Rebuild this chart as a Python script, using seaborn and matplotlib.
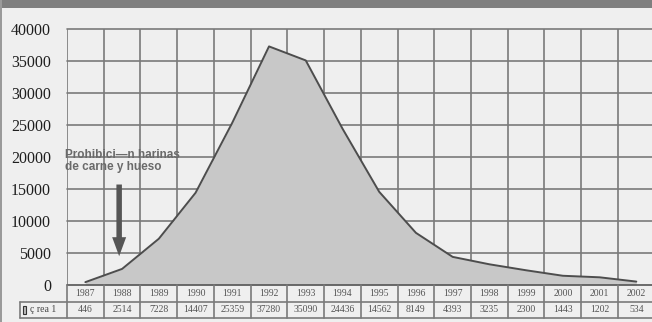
import numpy as np
import pandas as pd
import matplotlib
matplotlib.use("Agg")
import matplotlib.pyplot as plt
from matplotlib.patches import Rectangle
import seaborn as sns

years = ["1987", "1988", "1989", "1990", "1991", "1992", "1993", "1994",
         "1995", "1996", "1997", "1998", "1999", "2000", "2001", "2002"]
values = [446, 2514, 7228, 14407, 25359, 37280, 35090, 24436,
          14562, 8149, 4393, 3235, 2300, 1443, 1202, 534]
series_name = "ç rea 1"
y_ticks = [0, 5000, 10000, 15000, 20000, 25000, 30000, 35000, 40000]
annotation_lines = ["Prohibici—n harinas", "de carne y hueso"]

sns.set_theme(style="white")
plt.rcParams["font.family"] = ["Liberation Serif", "DejaVu Sans"]

W, H = 652, 322
fig = plt.figure(figsize=(W / 100, H / 100), dpi=100)
fig.patch.set_facecolor("#efefef")

# frame of the scanned figure
fig.add_artist(Rectangle((0, 1 - 8 / H), 1, 8 / H, transform=fig.transFigure,
                         facecolor="#7f7f7f", edgecolor="none", zorder=0))
fig.add_artist(Rectangle((0, 0), 2 / W, 1, transform=fig.transFigure,
                         facecolor="#9a9a9a", edgecolor="none", zorder=0))

cell = 36.73
left_px = 67
right_px = left_px + 16 * cell
top_px, zero_px, tab_bot = 29, 285, 318

ax = fig.add_axes([left_px / W, (H - zero_px) / H,
                   (right_px - left_px) / W, (zero_px - top_px) / H])
ax.set_facecolor("none")

df = pd.DataFrame({"pos": np.arange(len(years)), "value": values})
ax.fill_between(df["pos"], df["value"], 0, color="#c8c8c8", zorder=2, linewidth=0)
sns.lineplot(data=df, x="pos", y="value", ax=ax, color="#4d4d4d",
             linewidth=1.4, zorder=3)

ax.set_xlim(-0.5, 15.5)
ax.set_ylim(0, 40000)
grid_c = "#7a7a7a"
for yv in y_ticks:
    ax.axhline(yv, color=grid_c if yv else "#555555", lw=1.2, zorder=1 if yv else 4,
               clip_on=False)
for k in range(17):
    ax.axvline(-0.5 + k, color=grid_c, lw=1.2, zorder=1)

for s in ax.spines.values():
    s.set_visible(False)
ax.set_xticks([])
ax.set_yticks(y_ticks)
ax.set_yticklabels([str(v) for v in y_ticks], fontsize=11.5, color="#1e1e1e")
ax.tick_params(axis="y", length=4.5, width=1.2, color=grid_c, pad=7)
ax.set_xlabel("")
ax.set_ylabel("")

# annotation and arrow
for line, yv in zip(annotation_lines, [20300, 18400]):
    ax.text(-0.55, yv, line, fontsize=8.5, fontweight="bold",
            color="#6a6a6a", family=["Liberation Sans", "DejaVu Sans"],
            va="center", ha="left", zorder=5)
ax.annotate("", xy=(0.92, 4500), xytext=(0.92, 15700),
            arrowprops=dict(arrowstyle="simple,head_width=1.4,head_length=1.9,tail_width=0.55",
                            mutation_scale=7.2, color="#555555",
                            shrinkA=0, shrinkB=0, lw=0),
            zorder=5)

# data table under the chart
tax = fig.add_axes([left_px / W, (H - tab_bot) / H,
                    (right_px - left_px) / W, (tab_bot - zero_px) / H])
tax.set_facecolor("none")
tax.set_xlim(-0.5, 15.5)
tax.set_ylim(0, 2)
tax.axis("off")
leg_left = -0.5 - (left_px - 20) / cell
for k in range(17):
    tax.plot([-0.5 + k, -0.5 + k], [0, 2], color=grid_c, lw=1.2, clip_on=False)
tax.plot([leg_left, 15.6], [1, 1], color=grid_c, lw=1.2, clip_on=False)
tax.plot([leg_left, 15.6], [0, 0], color=grid_c, lw=1.2, clip_on=False)
tax.plot([leg_left, leg_left], [0, 1], color=grid_c, lw=1.2, clip_on=False)
for i, (yr, v) in enumerate(zip(years, values)):
    tax.text(i, 1.5, yr, ha="center", va="center", fontsize=7, color="#555555")
    tax.text(i, 0.5, str(v), ha="center", va="center", fontsize=7, color="#555555")
tax.add_patch(Rectangle((leg_left + 0.07, 0.25), 0.08, 0.5, facecolor="#bbbbbb",
                        edgecolor="#333333", lw=0.8, clip_on=False))
tax.text(leg_left + 0.27, 0.5, series_name, ha="left", va="center",
         fontsize=7, color="#444444")

fig.savefig("out.png", dpi=100, facecolor=fig.get_facecolor())
